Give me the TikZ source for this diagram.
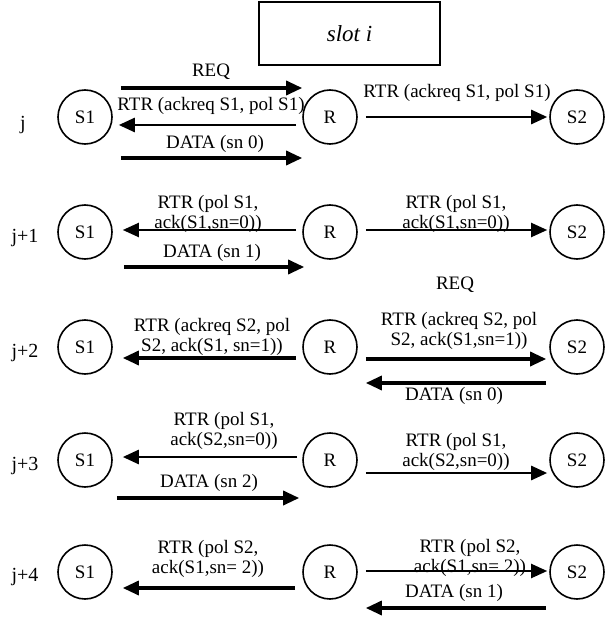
\documentclass[tikz,border=0pt]{standalone}
\usepackage{fontspec}
\setmainfont{Liberation Serif}
\usetikzlibrary{arrows.meta}
\begin{document}
\begin{tikzpicture}[x=1pt,y=-1pt,
  txt/.style={font=\fontsize{19}{20}\selectfont},
  stn/.style={txt,circle,draw,line width=1.6pt,minimum size=54pt,inner sep=0pt},
  lbl/.style={txt,inner sep=0pt,align=center},
  msg/.style={-{Triangle[length=16pt,width=14pt]}},
  thinmsg/.style={msg,line width=2pt},
  midmsg/.style={msg,line width=2.6pt},
  thkmsg/.style={msg,line width=3.3pt}]
\useasboundingbox (0,0) rectangle (605,620);

% title box
\node[draw,line width=1.5pt,minimum width=181pt,minimum height=63pt,inner sep=0pt,
      font=\fontsize{23}{25}\selectfont\itshape] (slot) at (349.5,33.5) {slot i};

% stations, one row per time step
\foreach \n/\y in {a/117,b/232,c/347,d/460,e/572}{
  \node[stn] (s1\n) at (85,\y) {S1};
  \node[stn] (r\n)  at (330,\y) {R};
  \node[stn] (s2\n) at (577,\y) {S2};
}

% row labels
\node[lbl,font=\fontsize{20}{22}\selectfont] (ta) at (23,125) {j};
\node[lbl,font=\fontsize{20}{22}\selectfont] (tb) at (25,238) {j+1};
\node[lbl,font=\fontsize{20}{22}\selectfont] (tc) at (25,353) {j+2};
\node[lbl,font=\fontsize{20}{22}\selectfont] (td) at (25,466) {j+3};
\node[lbl,font=\fontsize{20}{22}\selectfont] (te) at (25,577) {j+4};

% message labels
\node[lbl] (la1) at (211,72)  {REQ};
\node[lbl] (la2) at (211,106) {RTR (ackreq S1, pol S1)};
\node[lbl] (la3) at (215,144) {DATA (sn 0)};
\node[lbl] (la4) at (457,93)  {RTR (ackreq S1, pol S1)};

\node[lbl] (lb1) at (208,214) {RTR (pol S1,\\ack(S1,sn=0))};
\node[lbl] (lb2) at (212,253) {DATA (sn 1)};
\node[lbl] (lb3) at (456,214) {RTR (pol S1,\\ack(S1,sn=0))};
\node[lbl] (lb4) at (455,285) {REQ};

\node[lbl] (lc1) at (212,337) {RTR (ackreq S2, pol\\S2, ack(S1, sn=1))};
\node[lbl] (lc2) at (459,331) {RTR (ackreq S2, pol\\S2, ack(S1,sn=1))};
\node[lbl] (lc3) at (454,396) {DATA (sn 0)};

\node[lbl] (ld1) at (224,431) {RTR (pol S1,\\ack(S2,sn=0))};
\node[lbl] (ld2) at (209,483) {DATA (sn 2)};
\node[lbl] (ld3) at (456,452) {RTR (pol S1,\\ack(S2,sn=0))};

\node[lbl] (le1) at (208,559) {RTR (pol S2,\\ack(S1,sn= 2))};
\node[lbl] (le2) at (470,558) {RTR (pol S2,\\ack(S1,sn= 2))};
\node[lbl] (le3) at (454,593) {DATA (sn 1)};

% messages, row j
\draw[thkmsg] ([shift={(8,-29)}]s1a.east) -- ([shift={(0,-29)}]ra.west);
\draw[midmsg] ([shift={(-6,8)}]ra.west) -- ([shift={(6,8)}]s1a.east);
\draw[thkmsg] ([shift={(8,41)}]s1a.east) -- ([shift={(0,41)}]ra.west);
\draw[midmsg] ([shift={(8,0)}]ra.east) -- ([shift={(-2,0)}]s2a.west);

% row j+1
\draw[thinmsg] ([shift={(-6,-2)}]rb.west) -- ([shift={(10,-2)}]s1b.east);
\draw[thkmsg] ([shift={(11,35)}]s1b.east) -- ([shift={(2,35)}]rb.west);
\draw[thinmsg] ([shift={(8,-2)}]rb.east) -- ([shift={(-2,-2)}]s2b.west);

% row j+2
\draw[thkmsg] ([shift={(-6,11)}]rc.west) -- ([shift={(10,11)}]s1c.east);
\draw[thkmsg] ([shift={(8,12)}]rc.east) -- ([shift={(-3,12)}]s2c.west);
\draw[thkmsg] ([shift={(-3,36)}]s2c.west) -- ([shift={(8,36)}]rc.east);

% row j+3
\draw[midmsg] ([shift={(-5,-3)}]rd.west) -- ([shift={(10,-3)}]s1d.east);
\draw[thkmsg] ([shift={(4,38)}]s1d.east) -- ([shift={(-3,38)}]rd.west);
\draw[midmsg] ([shift={(8,13)}]rd.east) -- ([shift={(-2,13)}]s2d.west);

% row j+4
\draw[thkmsg] ([shift={(-7,16)}]re.west) -- ([shift={(10,16)}]s1e.east);
\draw[thinmsg] ([shift={(8,-1)}]re.east) -- ([shift={(-2,-1)}]s2e.west);
\draw[thkmsg] ([shift={(-3,36)}]s2e.west) -- ([shift={(8,36)}]re.east);
\end{tikzpicture}
\end{document}
